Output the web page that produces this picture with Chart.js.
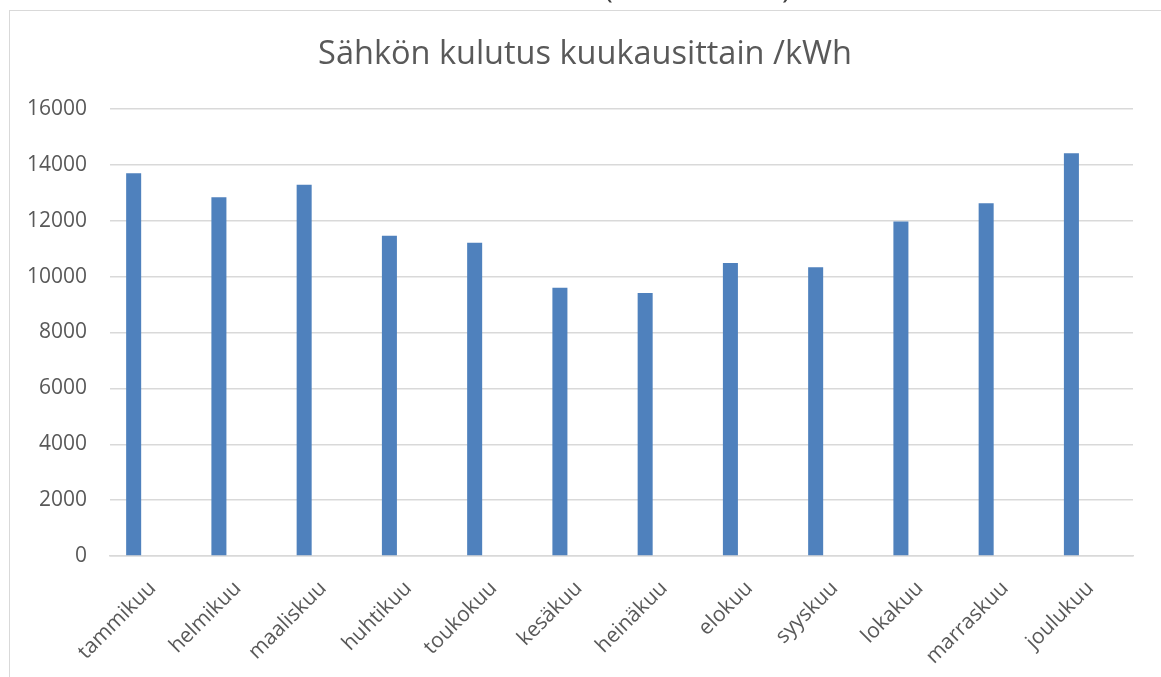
<!DOCTYPE html>
<html>
<head>
<meta charset="utf-8">
<script src="https://cdn.jsdelivr.net/npm/chart.js@4.4.1/dist/chart.umd.min.js"></script>
<style>
  html, body { margin: 0; padding: 0; background: #ffffff; overflow: hidden; }
  #wrap { position: absolute; left: 0; top: 0; width: 1161px; height: 677px; overflow: hidden; }
  #frame { position: absolute; left: 9px; top: 10px; width: 1160px; height: 700px; border: 1px solid #d9d9d9; box-sizing: border-box; pointer-events: none; }
  .cut { position: absolute; top: -31px; font: 30px "Open Sans", sans-serif; color: #404040; line-height: 36px; }
</style>
</head>
<body>
<div id="wrap">
  <canvas id="c" width="1161" height="677"></canvas>
  <div id="frame"></div>
  <span class="cut" style="left:604px">(</span>
  <span class="cut" style="left:782px">)</span>
</div>
<script>
const chartTitle = 'Sähkön kulutus kuukausittain /kWh';
const categories = ['tammikuu','helmikuu','maaliskuu','huhtikuu','toukokuu','kesäkuu','heinäkuu','elokuu','syyskuu','lokakuu','marraskuu','joulukuu'];
const consumption = [13700, 12840, 13290, 11460, 11210, 9600, 9410, 10490, 10340, 11970, 12630, 14420];
// second (empty) series of the original clustered chart – no values
const emptySeries = [null, null, null, null, null, null, null, null, null, null, null, null];
const yTicks = [0, 2000, 4000, 6000, 8000, 10000, 12000, 14000, 16000];

const FONT = '"Open Sans", sans-serif';
const TXT = '#595959';

// title centred on the chart frame (not on the plot area)
const frameTitle = {
  id: 'frameTitle',
  afterDraw(chart) {
    const ctx = chart.ctx;
    ctx.save();
    ctx.fillStyle = TXT;
    ctx.font = '32.5px ' + FONT;
    ctx.textAlign = 'center';
    ctx.textBaseline = 'middle';
    ctx.fillText(chartTitle, 585, 54.5);
    ctx.restore();
  }
};

new Chart(document.getElementById('c'), {
  type: 'bar',
  data: {
    labels: categories,
    datasets: [{
      data: consumption,
      backgroundColor: '#4f81bd',
      borderWidth: 0,
      categoryPercentage: 0.89,
      barPercentage: 0.396
    }, {
      data: emptySeries,
      backgroundColor: '#c0504d',
      borderWidth: 0,
      categoryPercentage: 0.89,
      barPercentage: 0.396
    }]
  },
  plugins: [frameTitle],
  options: {
    responsive: false,
    animation: false,
    layout: { padding: { left: 10, right: 28, top: 109, bottom: 0 } },
    plugins: {
      legend: { display: false },
      tooltip: { enabled: false },
      title: { display: false }
    },
    scales: {
      x: {
        grid: { display: false, drawTicks: false },
        border: { display: true, color: '#d9d9d9', width: 1.5 },
        ticks: {
          color: TXT,
          font: { family: FONT, size: 21 },
          minRotation: 45,
          maxRotation: 45,
          padding: 20,
          autoSkip: false
        },
        afterFit: (s) => { s.height = 121; }
      },
      y: {
        min: 0,
        max: 16000,
        afterBuildTicks: (s) => { s.ticks = yTicks.map(v => ({ value: v })); },
        grid: { color: '#d9d9d9', lineWidth: 1.5, drawTicks: false },
        border: { display: false },
        ticks: {
          color: TXT,
          font: { family: FONT, size: 21 },
          padding: 23,
          callback: (v) => String(v)
        },
        afterFit: (s) => { s.width = 100; }
      }
    }
  }
});
</script>
</body>
</html>
